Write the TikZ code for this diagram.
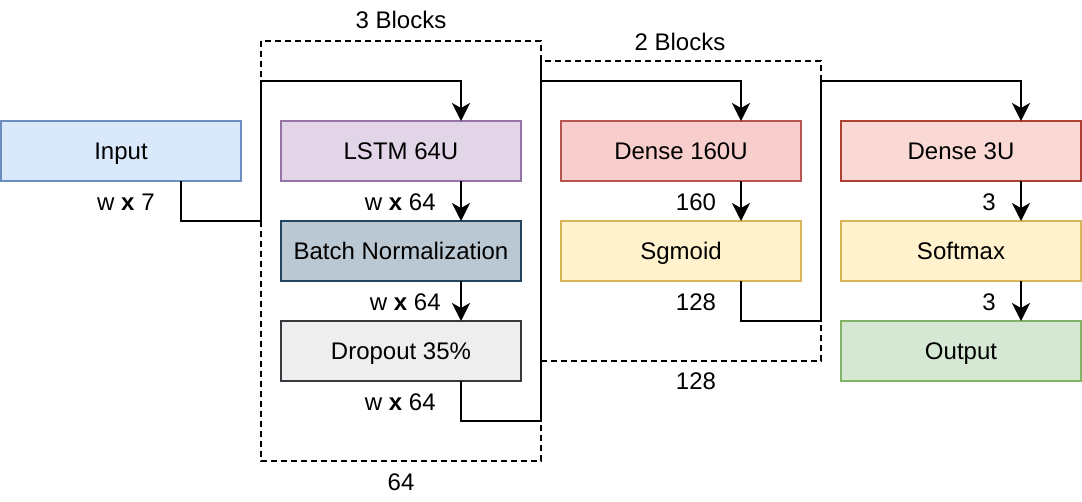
\documentclass[tikz,border=0pt]{standalone}
\usepackage{fontspec}
\setmainfont{Liberation Sans}
\usepackage{xcolor}
\usetikzlibrary{positioning, calc, arrows.meta}
\definecolor{inputfill}{HTML}{DAE8FC}
\definecolor{inputline}{HTML}{6C8EBF}
\definecolor{lstmfill}{HTML}{E1D5E7}
\definecolor{lstmline}{HTML}{9673A6}
\definecolor{bnfill}{HTML}{BAC8D3}
\definecolor{bnline}{HTML}{23445D}
\definecolor{dropfill}{HTML}{EEEEEE}
\definecolor{dropline}{HTML}{36393D}
\definecolor{densefill}{HTML}{F8CECC}
\definecolor{denseline}{HTML}{B85450}
\definecolor{actfill}{HTML}{FFF2CC}
\definecolor{actline}{HTML}{D6B656}
\definecolor{outdensefill}{HTML}{FAD9D5}
\definecolor{outdenseline}{HTML}{AE4132}
\definecolor{outputfill}{HTML}{D5E8D4}
\definecolor{outputline}{HTML}{82B366}

\begin{document}
\begin{tikzpicture}[x=0.5pt, y=-0.5pt,
	every node/.style={font=\fontsize{12}{14}\selectfont, text height=8.6pt, text depth=0pt},
	layer/.style={draw, line width=1pt, minimum width=120pt, minimum height=30pt, inner sep=0pt, outer sep=0pt},
	dim/.style={inner sep=0pt},
	flow/.style={line width=1pt, -{Stealth[length=9pt, width=9pt, inset=2.5pt]}},
	blockbox/.style={dashed, dash pattern=on 3pt off 2pt, line width=1pt}]
	\pgfmathsetmacro{\colw}{280}
	\pgfmathsetmacro{\rowh}{100}
	\useasboundingbox (0,0) rectangle (1082,502);
	
	% dashed block frames
	\draw[blockbox] (261,41) rectangle (541,461);
	\draw[blockbox] (541,61) rectangle (821,361);
	\node (blocksA) at (401,20) {3 Blocks};
	\node (blocksB) at (680,42) {2 Blocks};
	\node (sizeA) at (401,482) {64};
	\node (sizeB) at (696,381) {128};
	
	% layers
	\node[layer, fill=inputfill, draw=inputline] (input) at (121,151) {Input};
	\node[layer, fill=lstmfill, draw=lstmline] (lstm) at (121+\colw,151) {LSTM 64U};
	\node[layer, fill=bnfill, draw=bnline] (bnorm) at (121+\colw,151+\rowh) {Batch Normalization};
	\node[layer, fill=dropfill, draw=dropline] (drop) at (121+\colw,151+2*\rowh) {Dropout 35\%};
	\node[layer, fill=densefill, draw=denseline] (denseA) at (121+2*\colw,151) {Dense 160U};
	\node[layer, fill=actfill, draw=actline] (sgmoid) at (121+2*\colw,151+\rowh) {Sgmoid};
	\node[layer, fill=outdensefill, draw=outdenseline] (denseB) at (121+3*\colw,151) {Dense 3U};
	\node[layer, fill=actfill, draw=actline] (softmax) at (121+3*\colw,151+\rowh) {Softmax};
	\node[layer, fill=outputfill, draw=outputline] (output) at (121+3*\colw,151+2*\rowh) {Output};
	
	% connectors
	\draw[flow] ([xshift=30pt]input.south) -- ++(0,40) -| (261,81) -| ([xshift=30pt]lstm.north);
	\draw[flow] ([xshift=30pt]lstm.south) -- ([xshift=30pt]bnorm.north);
	\draw[flow] ([xshift=30pt]bnorm.south) -- ([xshift=30pt]drop.north);
	\draw[flow] ([xshift=30pt]drop.south) -- ++(0,40) -| (541,81) -| ([xshift=30pt]denseA.north);
	\draw[flow] ([xshift=30pt]denseA.south) -- ([xshift=30pt]sgmoid.north);
	\draw[flow] ([xshift=30pt]sgmoid.south) -- ++(0,40) -| (821,81) -| ([xshift=30pt]denseB.north);
	\draw[flow] ([xshift=30pt]denseB.south) -- ([xshift=30pt]softmax.north);
	\draw[flow] ([xshift=30pt]softmax.south) -- ([xshift=30pt]output.north);
	
	% shape labels
	\node[dim, anchor=east] (dimIn) at (155,202) {w \textbf{x} 7};
	\node[dim, anchor=east] (dimLstm) at (436,202) {w \textbf{x} 64};
	\node[dim, anchor=east] (dimBn) at (441,302) {w \textbf{x} 64};
	\node[dim, anchor=east] (dimDrop) at (436,402) {w \textbf{x} 64};
	\node[dim] (dimDense) at (696,202) {160};
	\node[dim] (dimSg) at (696,302) {128};
	\node[dim, anchor=east] (dimOutA) at (996,202) {3};
	\node[dim, anchor=east] (dimOutB) at (996,302) {3};
\end{tikzpicture}
\end{document}
